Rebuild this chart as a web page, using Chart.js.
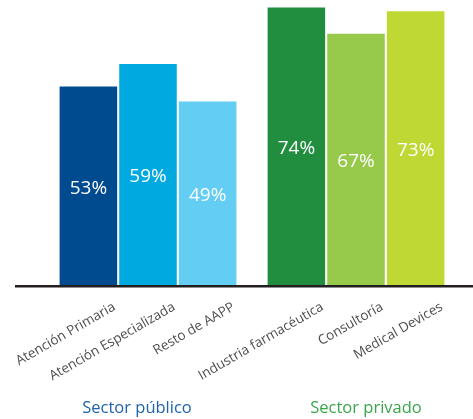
<!DOCTYPE html>
<html>
<head>
<meta charset="utf-8">
<script src="https://cdn.jsdelivr.net/npm/chart.js@4"></script>
<style>
  html, body { margin: 0; padding: 0; background: #fff; }
  #wrap { position: relative; width: 473px; height: 419px; }
</style>
</head>
<body>
<div id="wrap"><canvas id="chart"></canvas></div>
<script>
// categories and values
const categories = ['Atención Primaria', 'Atención Especializada', 'Resto de AAPP',
                    'Industria farmacéutica', 'Consultoría', 'Medical Devices'];
const sectors = ['Sector público', 'Sector privado'];
const values = [53, 59, 49, 74, 67, 73];
const barColors = ['#004a8f', '#00a9e0', '#63cdf4', '#218e3f', '#97c94a', '#bfd833'];
const sectorColors = ['#2063ad', '#3aa64c'];

// 3 bars per sector -> one dataset per position in the group
const datasets = [0, 1, 2].map(i => ({
    label: categories[i] + ' / ' + categories[i + 3],
    data: [values[i], values[i + 3]],
    backgroundColor: [barColors[i], barColors[i + 3]],
    borderWidth: 0,
    barPercentage: 0.965,
    categoryPercentage: 0.86
}));

// --- labels drawn next to the bars ---
const labelPlugin = {
    id: 'labels',
    afterDatasetsDraw(chart) {
        const ctx = chart.ctx;
        const area = chart.chartArea;
        ctx.save();

        // baseline
        ctx.fillStyle = '#231f20';
        ctx.fillRect(15, area.bottom - 1, chart.width - 15, 2.5);

        chart.data.datasets.forEach((ds, di) => {
            chart.getDatasetMeta(di).data.forEach((bar, gi) => {
                const idx = gi * 3 + di;
                // value inside the bar
                ctx.fillStyle = '#ffffff';
                ctx.font = '19px "Open Sans"';
                ctx.textAlign = 'center';
                ctx.textBaseline = 'middle';
                ctx.fillText(values[idx] + '%', bar.x, (bar.y + bar.base) / 2 + 2);

                // rotated category name under the bar
                ctx.save();
                ctx.translate(bar.x + 26, area.bottom + 20);
                ctx.rotate(-30 * Math.PI / 180);
                ctx.fillStyle = '#4d4d4f';
                ctx.font = '13.5px "Open Sans"';
                ctx.textAlign = 'right';
                ctx.textBaseline = 'middle';
                ctx.fillText(categories[idx], 0, 0);
                ctx.restore();
            });
        });

        // sector names
        const xs = chart.scales.x;
        const shift = [-11, 10];
        ctx.font = '16.5px "Open Sans"';
        ctx.textAlign = 'center';
        ctx.textBaseline = 'middle';
        sectors.forEach((s, i) => {
            ctx.fillStyle = sectorColors[i];
            ctx.fillText(s, xs.getPixelForValue(i) + shift[i], 408);
        });
        ctx.restore();
    }
};

new Chart(document.getElementById('chart'), {
    type: 'bar',
    data: { labels: sectors, datasets: datasets },
    options: {
        responsive: true,
        maintainAspectRatio: false,
        animation: false,
        layout: { padding: { left: 44, right: 13, top: 0, bottom: 133 } },
        plugins: { legend: { display: false }, tooltip: { enabled: false } },
        scales: {
            x: { display: false },
            y: { display: false, min: 0, max: 76 }
        }
    },
    plugins: [labelPlugin]
});
</script>
</body>
</html>
